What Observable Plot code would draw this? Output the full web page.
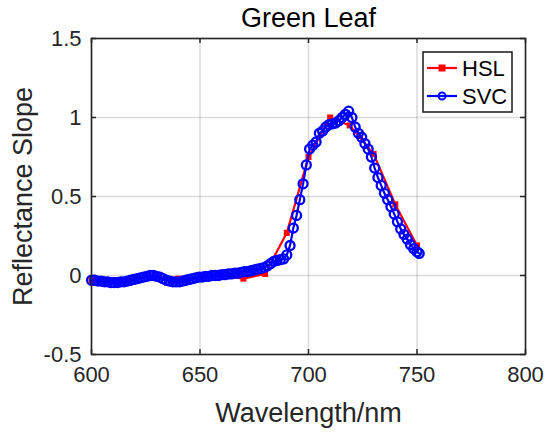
<!DOCTYPE html>
<html><head><meta charset="utf-8">
<script src="https://cdn.jsdelivr.net/npm/d3@7"></script>
<script src="https://cdn.jsdelivr.net/npm/@observablehq/plot@0.6"></script>
<style>body{margin:0;background:#fff} svg{font-family:"Liberation Sans",Arial,sans-serif}</style>
</head><body><div id="chart"></div>
<script>
const titleText = "Green Leaf";
const xLabel = "Wavelength/nm";
const yLabel = "Reflectance Slope";
const xTicks = [600, 650, 700, 750, 800];
const yTicks = [-0.5, 0, 0.5, 1, 1.5];
const seriesNames = ["HSL", "SVC"];

const hslWl  = [600, 610, 620, 630, 640, 650, 660, 670, 680, 690, 700, 710, 719, 730, 740, 750];
const hslVal = [-0.03, -0.03, -0.02, -0.005, -0.02, -0.01, 0.0, -0.02, 0.01, 0.27, 0.75, 1.0, 0.95, 0.77, 0.45, 0.19];

const svcWl = [600, 601.5, 603, 604.5, 606, 607.5, 609, 610.5, 612, 613.5, 615, 616.5, 618, 619.5,
  621, 622.5, 624, 625.5, 627, 628.5, 630, 631.5, 633, 634.5, 636, 637.5, 639, 640.5, 642, 643.5,
  645, 646.5, 648, 649.5, 651, 652.5, 654, 655.5, 657, 658.5, 660, 661.5, 663, 664.5, 666, 667.5,
  669, 670.5, 672, 673.5, 675, 676.5, 678, 679.5, 681, 682.5, 684, 685.5, 687, 688.5, 690, 691.5,
  693, 694.5, 696, 697.5, 699, 700.5, 702, 703.5, 705, 706.5, 708, 709.5, 711, 712.5, 714, 715.5,
  717, 718.5, 720, 721.5, 723, 724.5, 726, 727.5, 729, 730.5, 732, 733.5, 735, 736.5, 738, 739.5,
  741, 742.5, 744, 745.5, 747, 748.5, 750, 751];
const svcVal = [-0.03, -0.03, -0.035, -0.035, -0.04, -0.04, -0.045, -0.045, -0.045, -0.04, -0.04, -0.035, -0.03, -0.025,
  -0.02, -0.015, -0.01, -0.005, 0.0, 0.0, -0.005, -0.01, -0.02, -0.03, -0.035, -0.04, -0.04, -0.04, -0.035, -0.03,
  -0.025, -0.02, -0.015, -0.01, -0.01, -0.005, -0.005, 0.0, 0.0, 0.0, 0.005, 0.005, 0.01, 0.01, 0.015, 0.015,
  0.02, 0.025, 0.025, 0.03, 0.035, 0.04, 0.045, 0.05, 0.06, 0.075, 0.09, 0.095, 0.1, 0.105, 0.13, 0.19,
  0.3, 0.38, 0.48, 0.58, 0.7, 0.8, 0.825, 0.845, 0.9, 0.915, 0.94, 0.955, 0.96, 0.965, 0.98, 1.0,
  1.02, 1.04, 1.0, 0.94, 0.9, 0.875, 0.835, 0.8, 0.75, 0.68, 0.62, 0.57, 0.52, 0.48, 0.435, 0.39,
  0.34, 0.295, 0.26, 0.23, 0.195, 0.17, 0.15, 0.14];

const hsl = hslWl.map((w, i) => ({w, v: hslVal[i]}));
const svc = svcWl.map((w, i) => ({w, v: svcVal[i]}));

const W = 550, H = 438, mL = 91, mR = 25, mT = 38, mB = 84;
const fw = W - mL - mR, fh = H - mT - mB;
const RED = "#ff0000", BLUE = "#0000ff", INK = "#262626";

const chart = Plot.plot({
  width: W, height: H, marginLeft: mL, marginRight: mR, marginTop: mT, marginBottom: mB,
  style: {fontFamily: "Liberation Sans, Arial, sans-serif", background: "#fff", color: INK, overflow: "visible"},
  x: {domain: [600, 800], ticks: xTicks},
  y: {domain: [-0.5, 1.5], ticks: yTicks},
  marks: [
    Plot.gridX(xTicks, {stroke: "#000", strokeOpacity: 0.14, strokeWidth: 1.6}),
    Plot.gridY(yTicks, {stroke: "#000", strokeOpacity: 0.14, strokeWidth: 1.6}),
    Plot.axisX(xTicks, {anchor: "bottom", tickSize: 0, tickPadding: 12, fontSize: 22, label: null, tickFormat: d => String(d), fill: INK}),
    Plot.axisY(yTicks, {anchor: "left", tickSize: 0, tickPadding: 10, fontSize: 22, label: null, tickFormat: d => String(d), fill: INK}),
    Plot.tickX(xTicks, {x: d => d, insetTop: fh - 5, stroke: INK, strokeWidth: 1.5}),
    Plot.tickX(xTicks, {x: d => d, insetBottom: fh - 5, stroke: INK, strokeWidth: 1.5}),
    Plot.tickY(yTicks, {y: d => d, insetRight: fw - 5, stroke: INK, strokeWidth: 1.5}),
    Plot.tickY(yTicks, {y: d => d, insetLeft: fw - 5, stroke: INK, strokeWidth: 1.5}),
    Plot.line(hsl, {x: "w", y: "v", stroke: RED, strokeWidth: 2.2}),
    Plot.dot(hsl, {x: "w", y: "v", symbol: "square", fill: RED, r: 3.4}),
    Plot.line(svc, {x: "w", y: "v", stroke: BLUE, strokeWidth: 2.2}),
    Plot.dot(svc, {x: "w", y: "v", symbol: "circle", stroke: BLUE, fill: "none", r: 4.5, strokeWidth: 2.3}),
    Plot.frame({stroke: INK, strokeWidth: 1.6}),
    Plot.text([titleText], {frameAnchor: "top", lineAnchor: "middle", dy: -20, fontSize: 27, fill: "#000", text: d => d}),
    Plot.text([xLabel], {frameAnchor: "bottom", lineAnchor: "middle", textAnchor: "middle", dy: 59, fontSize: 27, fill: INK, text: d => d}),
    Plot.text([yLabel], {frameAnchor: "left", textAnchor: "middle", lineAnchor: "middle", dx: -68, rotate: -90, fontSize: 27, fill: INK, text: d => d})
  ]
});
document.getElementById("chart").appendChild(chart);

// legend box inside the plot (top-right)
const svg = d3.select(chart);
const lx = 423, ly = 52, lw = 89, lh = 60;
const g = svg.append("g");
g.append("rect").attr("x", lx).attr("y", ly).attr("width", lw).attr("height", lh)
  .attr("fill", "#fff").attr("stroke", INK).attr("stroke-width", 1.6);
const rows = [{name: seriesNames[0], color: RED, sym: "square"}, {name: seriesNames[1], color: BLUE, sym: "circle"}];
rows.forEach((r, i) => {
  const yy = ly + 16 + i * 28;
  g.append("line").attr("x1", lx + 4).attr("x2", lx + 34).attr("y1", yy).attr("y2", yy)
    .attr("stroke", r.color).attr("stroke-width", 2.2);
  if (r.sym === "square") {
    g.append("rect").attr("x", lx + 19 - 3.5).attr("y", yy - 3.5).attr("width", 7).attr("height", 7).attr("fill", r.color);
  } else {
    g.append("circle").attr("cx", lx + 19).attr("cy", yy).attr("r", 3.5).attr("fill", "none")
      .attr("stroke", r.color).attr("stroke-width", 2);
  }
  g.append("text").attr("x", lx + 39).attr("y", yy).attr("dy", "0.36em")
    .attr("text-anchor", "start").attr("font-size", 22).attr("fill", "#000").text(r.name);
});
</script>
</body></html>
